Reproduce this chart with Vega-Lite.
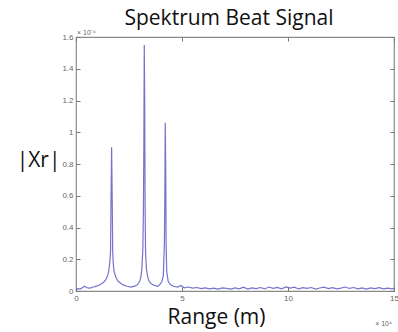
{
  "$schema": "https://vega.github.io/schema/vega-lite/v6.json",
  "width": 318,
  "height": 254,
  "autosize": "none",
  "padding": {"left": 76, "top": 37, "right": 4, "bottom": 41},
  "background": "white",
  "title": {"text": "Spektrum Beat Signal", "font": "Open Sans", "fontSize": 21, "fontWeight": "normal", "color": "#111", "offset": 0, "anchor": "middle", "dx": -6},
  "config": {"view": {"stroke": "#8a8a8a", "strokeWidth": 1.2}},
  "datasets": {
    "spec": [
      {"r": 0, "xr": 0.01}, {"r": 0.1, "xr": 0.015}, {"r": 0.2, "xr": 0.012}, {"r": 0.3, "xr": 0.02}, {"r": 0.4, "xr": 0.03},
      {"r": 0.5, "xr": 0.022}, {"r": 0.6, "xr": 0.018}, {"r": 0.7, "xr": 0.02}, {"r": 0.8, "xr": 0.025}, {"r": 0.9, "xr": 0.028},
      {"r": 1.0, "xr": 0.032}, {"r": 1.1, "xr": 0.038}, {"r": 1.2, "xr": 0.045}, {"r": 1.3, "xr": 0.055}, {"r": 1.4, "xr": 0.07},
      {"r": 1.5, "xr": 0.1}, {"r": 1.56, "xr": 0.14}, {"r": 1.6, "xr": 0.19}, {"r": 1.63, "xr": 0.25}, {"r": 1.65, "xr": 0.55},
      {"r": 1.67, "xr": 0.78}, {"r": 1.68, "xr": 0.905}, {"r": 1.69, "xr": 0.78}, {"r": 1.71, "xr": 0.55}, {"r": 1.73, "xr": 0.25},
      {"r": 1.76, "xr": 0.17}, {"r": 1.8, "xr": 0.12}, {"r": 1.9, "xr": 0.08}, {"r": 2.0, "xr": 0.06}, {"r": 2.2, "xr": 0.04},
      {"r": 2.4, "xr": 0.03}, {"r": 2.6, "xr": 0.025}, {"r": 2.8, "xr": 0.032}, {"r": 2.9, "xr": 0.04}, {"r": 3.0, "xr": 0.06},
      {"r": 3.05, "xr": 0.08}, {"r": 3.1, "xr": 0.13}, {"r": 3.15, "xr": 0.25}, {"r": 3.18, "xr": 0.5}, {"r": 3.2, "xr": 0.9},
      {"r": 3.22, "xr": 1.55}, {"r": 3.24, "xr": 1.2}, {"r": 3.26, "xr": 0.53}, {"r": 3.28, "xr": 0.25}, {"r": 3.32, "xr": 0.14},
      {"r": 3.38, "xr": 0.09}, {"r": 3.45, "xr": 0.06}, {"r": 3.55, "xr": 0.045}, {"r": 3.7, "xr": 0.035}, {"r": 3.85, "xr": 0.03},
      {"r": 3.95, "xr": 0.04}, {"r": 4.05, "xr": 0.06}, {"r": 4.12, "xr": 0.1}, {"r": 4.17, "xr": 0.3}, {"r": 4.19, "xr": 0.6},
      {"r": 4.21, "xr": 1.06}, {"r": 4.23, "xr": 0.8}, {"r": 4.25, "xr": 0.3}, {"r": 4.28, "xr": 0.12}, {"r": 4.35, "xr": 0.06},
      {"r": 4.45, "xr": 0.04}, {"r": 4.6, "xr": 0.03}, {"r": 4.8, "xr": 0.025}, {"r": 4.95, "xr": 0.035}, {"r": 5.0, "xr": 0.03},
      {"r": 5.1, "xr": 0.02}, {"r": 5.3, "xr": 0.025}, {"r": 5.5, "xr": 0.018}, {"r": 5.7, "xr": 0.022}, {"r": 5.9, "xr": 0.015},
      {"r": 6.1, "xr": 0.02}, {"r": 6.3, "xr": 0.013}, {"r": 6.5, "xr": 0.018}, {"r": 6.7, "xr": 0.012}, {"r": 6.9, "xr": 0.02},
      {"r": 7.1, "xr": 0.016}, {"r": 7.3, "xr": 0.012}, {"r": 7.5, "xr": 0.019}, {"r": 7.7, "xr": 0.014}, {"r": 7.9, "xr": 0.024},
      {"r": 8.1, "xr": 0.012}, {"r": 8.3, "xr": 0.02}, {"r": 8.5, "xr": 0.015}, {"r": 8.7, "xr": 0.022}, {"r": 8.9, "xr": 0.013},
      {"r": 9.1, "xr": 0.025}, {"r": 9.3, "xr": 0.017}, {"r": 9.5, "xr": 0.023}, {"r": 9.7, "xr": 0.014}, {"r": 9.9, "xr": 0.026},
      {"r": 10.1, "xr": 0.018}, {"r": 10.3, "xr": 0.024}, {"r": 10.5, "xr": 0.013}, {"r": 10.7, "xr": 0.021}, {"r": 10.9, "xr": 0.016},
      {"r": 11.1, "xr": 0.022}, {"r": 11.3, "xr": 0.012}, {"r": 11.5, "xr": 0.019}, {"r": 11.7, "xr": 0.024}, {"r": 11.9, "xr": 0.015},
      {"r": 12.1, "xr": 0.021}, {"r": 12.3, "xr": 0.013}, {"r": 12.5, "xr": 0.018}, {"r": 12.7, "xr": 0.025}, {"r": 12.9, "xr": 0.016},
      {"r": 13.1, "xr": 0.022}, {"r": 13.3, "xr": 0.014}, {"r": 13.5, "xr": 0.02}, {"r": 13.7, "xr": 0.012}, {"r": 13.9, "xr": 0.019},
      {"r": 14.1, "xr": 0.015}, {"r": 14.3, "xr": 0.021}, {"r": 14.5, "xr": 0.013}, {"r": 14.7, "xr": 0.018}, {"r": 14.9, "xr": 0.014},
      {"r": 15.0, "xr": 0.016}
    ],
    "notes": [
      {"label": "× 10⁻⁴", "px": 0, "py": 1.6, "kind": "y"},
      {"label": "× 10⁴", "px": 15, "py": 0, "kind": "x"}
    ]
  },
  "resolve": {"axis": {"x": "independent", "y": "independent"}},
  "layer": [
    {
      "data": {"name": "spec"},
      "mark": {"type": "line", "color": "#5c5cc2", "strokeWidth": 1.2, "opacity": 0.85, "clip": true},
      "encoding": {
        "x": {"field": "r", "type": "quantitative", "scale": {"domain": [0, 15], "nice": false},
          "axis": {"orient": "bottom", "title": "Range (m)", "titleFont": "Open Sans", "titleFontSize": 21, "titleFontWeight": "normal", "titleColor": "#111", "titlePadding": 4,
            "titleX": 140, "titleAlign": "center",
            "values": [0, 5, 10, 15], "grid": false, "domain": false, "tickSize": -4, "tickColor": "#777", "labelPadding": 7,
            "labelFont": "Liberation Sans", "labelFontSize": 8, "labelColor": "#666", "labelFlush": false}},
        "y": {"field": "xr", "type": "quantitative", "scale": {"domain": [0, 1.6], "nice": false},
          "axis": {"orient": "left", "title": "|Xr|", "titleAngle": 0, "titleFont": "Open Sans", "titleFontSize": 21, "titleFontWeight": "normal", "titleColor": "#111",
            "titleAlign": "right", "titleBaseline": "middle", "titleX": -16, "titleY": 123,
            "labelExpr": "format(datum.value, '~g')",
            "values": [0, 0.2, 0.4, 0.6, 0.8, 1, 1.2, 1.4, 1.6], "grid": false, "domain": false, "tickSize": -4, "tickColor": "#777", "labelPadding": 7,
            "labelFont": "Liberation Sans", "labelFontSize": 8, "labelColor": "#666", "labelFlush": false}}
      }
    },
    {
      "data": {"name": "spec"},
      "mark": {"type": "line", "strokeOpacity": 0},
      "encoding": {
        "x": {"field": "r", "type": "quantitative", "scale": {"domain": [0, 15], "nice": false},
          "axis": {"orient": "top", "title": null, "labels": false, "values": [0, 5, 10, 15], "grid": false, "domain": false, "tickSize": -4, "tickColor": "#777"}},
        "y": {"field": "xr", "type": "quantitative", "scale": {"domain": [0, 1.6], "nice": false},
          "axis": {"orient": "right", "title": null, "labels": false, "values": [0, 0.2, 0.4, 0.6, 0.8, 1, 1.2, 1.4, 1.6], "grid": false, "domain": false, "tickSize": -4, "tickColor": "#777"}}
      }
    },
    {
      "data": {"name": "notes"},
      "transform": [{"filter": "datum.kind == 'y'"}],
      "mark": {"type": "text", "align": "left", "baseline": "bottom", "dx": 1, "dy": -1, "font": "Liberation Sans", "fontSize": 7, "color": "#666"},
      "encoding": {
        "x": {"field": "px", "type": "quantitative", "axis": null, "scale": {"domain": [0, 15], "nice": false}},
        "y": {"field": "py", "type": "quantitative", "axis": null, "scale": {"domain": [0, 1.6], "nice": false}},
        "text": {"field": "label"}
      }
    },
    {
      "data": {"name": "notes"},
      "transform": [{"filter": "datum.kind == 'x'"}],
      "mark": {"type": "text", "align": "right", "baseline": "top", "dx": -2, "dy": 29, "font": "Liberation Sans", "fontSize": 7, "color": "#666"},
      "encoding": {
        "x": {"field": "px", "type": "quantitative", "axis": null, "scale": {"domain": [0, 15], "nice": false}},
        "y": {"field": "py", "type": "quantitative", "axis": null, "scale": {"domain": [0, 1.6], "nice": false}},
        "text": {"field": "label"}
      }
    }
  ]
}
